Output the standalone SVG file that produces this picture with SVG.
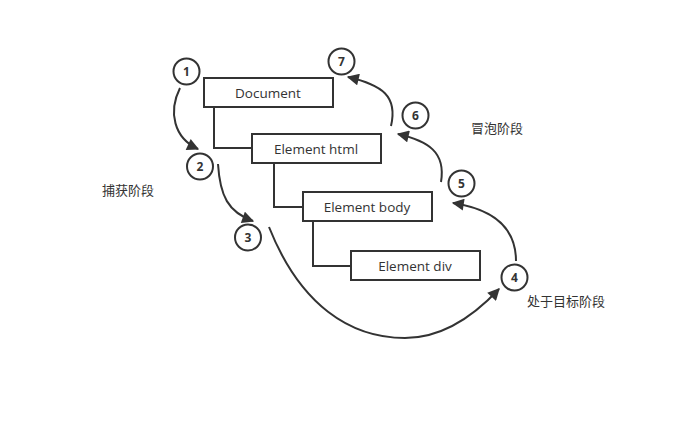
<svg xmlns="http://www.w3.org/2000/svg" width="678" height="424" viewBox="0 0 678 424">
<defs>
<style>
.box{fill:#fff;stroke:#333;stroke-width:2}
.tree{fill:none;stroke:#333;stroke-width:2}
.num{fill:#fff;stroke:#333;stroke-width:2}
.ntext{font-family:"Open Sans","Noto Sans",sans-serif;font-size:13.5px;fill:#333;text-anchor:middle}
.ctext{font-family:"Open Sans","Noto Sans",sans-serif;font-size:12px;font-weight:bold;fill:#333;text-anchor:middle}
.label{font-family:"Noto Sans CJK SC",sans-serif;font-size:13px;fill:#333}
.arc{fill:none;stroke:#333;stroke-width:2;marker-end:url(#ah)}
</style>
<marker id="ah" viewBox="0 0 10 10" refX="9" refY="5" markerWidth="7" markerHeight="6" markerUnits="strokeWidth" orient="auto">
<path d="M0,0 L10,5 L0,10 z" fill="#333"/>
</marker>
</defs>
<rect width="678" height="424" fill="#fff"/>
<g id="tree-lines">
<path class="tree" d="M214,107 V148 H252"/>
<path class="tree" d="M274,163 V207 H303"/>
<path class="tree" d="M313,221 V266 H351"/>
</g>
<g id="node-document"><rect class="box" x="204" y="78" width="129" height="29"/><text class="ntext" x="268" y="97.5">Document</text></g>
<g id="node-html"><rect class="box" x="252" y="134" width="129" height="29"/><text class="ntext" x="316" y="153.5">Element html</text></g>
<g id="node-body"><rect class="box" x="303" y="192" width="129" height="29"/><text class="ntext" x="367" y="211.5">Element body</text></g>
<g id="node-div"><rect class="box" x="351" y="251" width="129" height="29"/><text class="ntext" x="415" y="270.5">Element div</text></g>
<g id="connectors">
<path class="arc" d="M180,88 C168,112 174,138 198,149"/>
<path class="arc" d="M218,164 C220,196 228,212 253,221"/>
<path class="arc" d="M269,227 C300,305 350,338 405,338 C440,338 470,320 499,289"/>
<path class="arc" d="M516,261 C516,226 492,209 453,203"/>
<path class="arc" d="M441,182 C446,152 428,141 398,134"/>
<path class="arc" d="M391,126 C398,96 382,85 348,77"/>
</g>
<g id="step-1"><circle class="num" cx="186.5" cy="71.5" r="13"/><text class="ctext" x="186.5" y="76">1</text></g>
<g id="step-2"><circle class="num" cx="200" cy="166.5" r="13"/><text class="ctext" x="200" y="171">2</text></g>
<g id="step-3"><circle class="num" cx="248" cy="237.5" r="13"/><text class="ctext" x="248" y="242">3</text></g>
<g id="step-4"><circle class="num" cx="514.5" cy="277.5" r="13"/><text class="ctext" x="514.5" y="282">4</text></g>
<g id="step-5"><circle class="num" cx="461.5" cy="183.5" r="13"/><text class="ctext" x="461.5" y="188">5</text></g>
<g id="step-6"><circle class="num" cx="415.5" cy="115.5" r="13"/><text class="ctext" x="415.5" y="120">6</text></g>
<g id="step-7"><circle class="num" cx="341.5" cy="61.5" r="13"/><text class="ctext" x="341.5" y="66">7</text></g>
<g id="labels">
<text class="label" x="102" y="195">捕获阶段</text>
<text class="label" x="471" y="133">冒泡阶段</text>
<text class="label" x="527" y="306">处于目标阶段</text>
</g>
</svg>
